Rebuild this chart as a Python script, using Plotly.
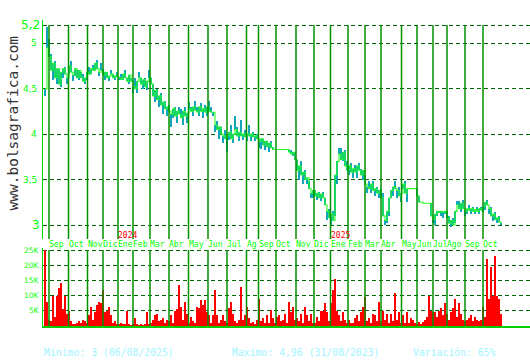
import plotly.graph_objects as go

# ---------------- data ----------------
# one value per ~2 trading sessions, from end of Aug 2023 to Oct 2025
cierre = [
    4.50, 4.95, 4.85, 4.70, 4.78, 4.62, 4.72, 4.55, 4.68, 4.72,
    4.66, 4.62, 4.75, 4.68, 4.65, 4.72, 4.62, 4.70, 4.62, 4.58,
    4.62, 4.68, 4.66, 4.72, 4.70, 4.78, 4.72, 4.68, 4.70, 4.65,
    4.68, 4.62, 4.64, 4.66, 4.62, 4.64, 4.63, 4.62, 4.60, 4.66,
    4.62, 4.58, 4.65, 4.58, 4.52, 4.50, 4.58, 4.62, 4.55, 4.60,
    4.52, 4.58, 4.62, 4.55, 4.42, 4.48, 4.38, 4.42, 4.32, 4.35,
    4.28, 4.30, 4.25, 4.22, 4.28, 4.20, 4.25, 4.22, 4.18, 4.25,
    4.20, 4.23, 4.28, 4.25, 4.30, 4.26, 4.24, 4.30, 4.25, 4.28,
    4.24, 4.30, 4.25, 4.24, 4.24, 4.10, 4.05, 4.08, 4.00, 3.98,
    3.95, 3.98, 4.02, 3.95, 4.00, 4.05, 3.98, 4.02, 3.98, 4.00,
    3.97, 4.00, 3.98, 4.00, 3.97, 3.98, 3.95, 3.92, 3.95, 3.88,
    3.92, 3.86, 3.90, 3.85, 3.83, 3.83, 3.83, 3.83, 3.83, 3.83,
    3.83, 3.83, 3.80, 3.78, 3.80, 3.72, 3.60, 3.65, 3.55, 3.58,
    3.50, 3.52, 3.40, 3.35, 3.38, 3.32, 3.35, 3.30, 3.34, 3.30,
    3.22, 3.15, 3.08, 3.12, 3.05, 3.55, 3.70, 3.78, 3.72, 3.80,
    3.65, 3.60, 3.65, 3.58, 3.62, 3.58, 3.65, 3.60, 3.55, 3.60,
    3.45, 3.42, 3.40, 3.45, 3.38, 3.40, 3.35, 3.38, 3.30, 3.10,
    3.05, 3.15, 3.30, 3.38, 3.42, 3.40, 3.38, 3.32, 3.35, 3.45,
    3.35, 3.40, 3.40, 3.40, 3.40, 3.40, 3.32, 3.25, 3.25, 3.24,
    3.24, 3.24, 3.24, 3.10, 3.06, 3.12, 3.15, 3.14, 3.15, 3.14,
    3.15, 3.08, 3.02, 3.05, 3.00, 3.15, 3.22, 3.18, 3.24, 3.18,
    3.15, 3.18, 3.16, 3.18, 3.15, 3.17, 3.15, 3.18, 3.16, 3.20,
    3.25, 3.22, 3.18, 3.10, 3.12, 3.06, 3.08, 3.03, 3.02,
]
apertura = [
    4.42, 5.18, 5.05, 4.88, 4.60, 4.80, 4.55, 4.72, 4.52, 4.62,
    4.74, 4.55, 4.66, 4.80, 4.58, 4.64, 4.70, 4.60, 4.68, 4.66,
    4.55, 4.60, 4.74, 4.66, 4.76, 4.70, 4.82, 4.64, 4.78, 4.72,
    4.60, 4.68, 4.58, 4.70, 4.66, 4.60, 4.68, 4.60, 4.66, 4.60,
    4.70, 4.62, 4.55, 4.62, 4.45, 4.62, 4.45, 4.68, 4.62, 4.50,
    4.62, 4.48, 4.70, 4.62, 4.55, 4.35, 4.50, 4.30, 4.45, 4.22,
    4.36, 4.20, 4.32, 4.08, 4.18, 4.30, 4.12, 4.30, 4.28, 4.10,
    4.30, 4.12, 4.35, 4.30, 4.20, 4.36, 4.30, 4.20, 4.34, 4.18,
    4.32, 4.20, 4.36, 4.30, 4.20, 4.02, 4.14, 3.95, 4.08, 3.90,
    4.04, 3.80, 3.94, 4.10, 3.90, 4.20, 4.08, 3.92, 4.15, 3.94,
    4.05, 3.92, 4.10, 3.92, 4.02, 3.92, 4.00, 3.85, 3.84, 3.95,
    3.82, 3.92, 3.80, 3.92, 3.86, 3.83, 3.83, 3.83, 3.83, 3.83,
    3.83, 3.83, 3.83, 3.82, 3.76, 3.80, 3.72, 3.50, 3.70, 3.45,
    3.60, 3.45, 3.48, 3.30, 3.30, 3.38, 3.28, 3.36, 3.26, 3.36,
    3.30, 3.05, 3.18, 3.00, 3.15, 3.10, 3.45, 3.85, 3.85, 3.70,
    3.82, 3.70, 3.55, 3.68, 3.52, 3.66, 3.52, 3.68, 3.62, 3.50,
    3.55, 3.35, 3.48, 3.35, 3.48, 3.32, 3.42, 3.30, 3.40, 3.35,
    3.00, 3.02, 3.10, 3.30, 3.32, 3.48, 3.30, 3.42, 3.25, 3.40,
    3.48, 3.25, 3.40, 3.40, 3.40, 3.40, 3.40, 3.32, 3.25, 3.24,
    3.24, 3.24, 3.24, 3.24, 3.02, 3.00, 3.10, 3.15, 3.10, 3.08,
    3.12, 3.15, 3.10, 2.98, 3.08, 3.02, 3.26, 3.26, 3.14, 3.28,
    3.10, 3.12, 3.22, 3.12, 3.20, 3.12, 3.20, 3.12, 3.20, 3.14,
    3.16, 3.28, 3.12, 3.20, 3.04, 3.14, 3.02, 3.10, 3.00,
]
# volume in thousands of shares
volumen_miles = [
    25, 8, 2, 1.5, 10, 3, 10, 12.5, 14, 5.5, 10, 4,
    5, 1.5, 0.8, 0.5, 1, 1.5, 1, 2, 1.5, 1,
    3.5, 6.3, 2, 4.6, 7, 8, 7.5, 12, 4.5, 5, 6.3, 3.5,
    1, 1.5, 0.8,
    0.5, 1, 0.5, 0.8, 5, 0.5, 0.3,
    0.5, 2.5, 0.5, 0.3, 0.5, 0.3, 0.5, 4.6, 0.5,
    1, 2, 3.5, 4, 1.5, 2, 2.5, 1, 2,
    1.5, 3.5, 1, 5, 5.5, 13.5, 6.3, 2, 8, 4,
    1, 3, 1.5, 1, 6.3, 5.8, 8.5, 6.8, 8.5, 4.6,
    3.5, 1, 3.5, 11.7, 3.5, 1, 2, 3.5, 1.5,
    1, 5.8, 8, 4, 1.5, 1, 2, 12.7, 2, 3.5,
    6.3, 2.5, 1, 1.3, 0.8, 2,
    8.8, 1.5, 2.5, 1, 3.5, 1, 5.2, 2.5, 1,
    3, 3.5, 1.5, 2, 4, 1, 8, 4.6, 6.3, 2,
    2.5, 1.5, 4, 1, 6.3, 3.5, 1.5, 4, 1,
    1, 3, 1.5, 5, 5, 7.5, 4.6, 1.5,
    7.5, 12, 15.5, 5, 3.5, 1.5, 4.6, 2, 1,
    2, 1, 1, 2.5, 3.5, 1.5, 4.6, 6.3,
    9.5, 1.5, 2.5, 1, 4, 3.5, 1.5, 8,
    1.5, 5, 2, 4, 1, 4, 1.5, 10.8, 2, 4.6, 1,
    3.5, 1, 4.6, 1, 2.5, 2, 1,
    0.5, 1.3, 0.5, 1.3, 2, 3, 9.9, 5,
    4.6, 4.6, 3, 5, 5.8, 3.5, 7.5,
    4, 2, 4.6, 5.8, 8.8, 3, 7.5, 4, 2,
    1.5, 2, 2.5, 3.5, 1.5, 3, 2, 1.5, 2,
    6.3, 3, 22, 9, 19.5, 10, 23, 10, 8.8, 4,
]
# month starts (in the same session index) and their labels
inicio_mes = [2, 11.75, 21.25, 29, 36.5, 44, 52.5, 62, 71.75, 81.5, 91, 100.75,
              106.75, 115.5, 125.5, 134.5, 142.75, 151.5, 160, 168, 178.25, 186,
              194, 201, 210, 219]
etiquetas_mes = ["Sep", "Oct", "Nov", "Dic", "Ene", "Feb", "Mar", "Abr", "May", "Jun",
                 "Jul", "Ag", "Sep", "Oct", "Nov", "Dic", "Ene", "Feb", "Mar", "Abr",
                 "May", "Jun", "Jul", "Ago", "Sep", "Oct"]
anios = [("2024", 36.5), ("2025", 142.75)]
niveles_precio = [3, 3.5, 4, 4.5, 5, 5.2]
etiquetas_precio = ["3", "3,5", "4", "4,5", "5", "5,2"]
niveles_vol = [5, 10, 15, 20, 25]
etiquetas_vol = ["5K", "10K", "15K", "20K", "25K"]

# ---------------- figure ----------------
idx_p = list(range(len(cierre)))
idx_v = list(range(len(volumen_miles)))
dif = [c - o for c, o in zip(cierre, apertura)]

XR = [-1, 242.5]
PR = [2.846, 5.255]
VR = [0, 25.66]

fig = go.Figure()
fig.add_trace(go.Bar(x=idx_p, y=dif, base=apertura, width=1.0,
                     marker=dict(color="#12a7b8", line=dict(width=0)),
                     xaxis="x", yaxis="y", hoverinfo="skip"))
fig.add_trace(go.Scatter(x=idx_p, y=cierre, mode="lines",
                         line=dict(color="#22ff22", width=1.1, shape="hv"),
                         xaxis="x", yaxis="y"))
fig.add_trace(go.Bar(x=idx_v, y=volumen_miles, width=0.55,
                     marker=dict(color="#ff0000", line=dict(width=0)),
                     xaxis="x2", yaxis="y2"))

shapes = []
for m in inicio_mes:
    shapes.append(dict(type="line", xref="x", yref="y", x0=m, x1=m, y0=PR[0], y1=5.2,
                       line=dict(color="#009000", width=1.5), layer="above"))
    shapes.append(dict(type="line", xref="x2", yref="y2", x0=m, x1=m, y0=0, y1=25,
                       line=dict(color="#009000", width=1.5), layer="above"))

ann = []
for lvl, lab in zip(niveles_precio, etiquetas_precio):
    big = lab in ("5,2", "3")
    ann.append(dict(xref="paper", yref="y", x=-0.003 if big else -0.008, y=lvl,
                    xanchor="right", yanchor="middle", text=lab, showarrow=False,
                    font=dict(family="DejaVu Sans", size=12 if big else 9, color="#00ff00")))
for lvl, lab in zip(niveles_vol, etiquetas_vol):
    ann.append(dict(xref="paper", yref="y2", x=-0.002, y=lvl,
                    xanchor="right", yanchor="middle", text=lab, showarrow=False,
                    font=dict(family="DejaVu Sans", size=7.5, color="#00ff00")))
for m, lab in zip(inicio_mes, etiquetas_mes):
    ann.append(dict(xref="x", yref="paper", x=m, y=(360 - 244) / 360, xshift=-2,
                    xanchor="left", yanchor="middle", text=lab, showarrow=False,
                    font=dict(family="DejaVu Sans Mono", size=8, color="#00ff00")))
for lab, m in anios:
    ann.append(dict(xref="x", yref="paper", x=m, y=(360 - 235.5) / 360, xshift=-2,
                    xanchor="left", yanchor="middle", text=lab, showarrow=False,
                    font=dict(family="DejaVu Sans Mono", size=8, color="#ff0000")))
ann.append(dict(xref="paper", yref="paper", x=(12 - 43) / 487, y=(360 - 123.5) / 360,
                text="www.bolsagrafica.com", textangle=-90, showarrow=False,
                xanchor="center", yanchor="middle",
                font=dict(family="DejaVu Sans Mono", size=14.5, color="#333333")))
for txt, px in [("Minimo: 3 (06/08/2025)", 44), ("Maximo: 4,96 (31/08/2023)", 231.5),
                ("Variación: 65%", 413)]:
    ann.append(dict(xref="paper", yref="paper", x=(px - 43) / 487, y=8 / 360, xshift=-2,
                    xanchor="left", yanchor="middle", text=txt, showarrow=False,
                    font=dict(family="DejaVu Sans Mono", size=9.8, color="#a0f4ff")))

grid = dict(showgrid=True, gridcolor="#006400", gridwidth=1.2, griddash="4px,3px",
            zeroline=False, showticklabels=False, ticks="")
fig.update_layout(
    width=530, height=360, margin=dict(l=43, r=0, t=0, b=0),
    paper_bgcolor="white", plot_bgcolor="white", showlegend=False,
    barmode="overlay", bargap=0,
    xaxis=dict(domain=[0, 1], range=XR, showgrid=False, zeroline=False,
               showticklabels=False, ticks="", anchor="y"),
    xaxis2=dict(domain=[0, 1], range=XR, showgrid=False, zeroline=False,
                showticklabels=False, ticks="", anchor="y2", showline=True,
                linecolor="#00cc00", linewidth=2),
    yaxis=dict(domain=[(360 - 239) / 360, (360 - 20) / 360], range=PR,
               tickvals=niveles_precio, anchor="x", showline=True,
               linecolor="#00dd00", linewidth=1.3, **grid),
    yaxis2=dict(domain=[(360 - 326) / 360, (360 - 248) / 360], range=VR,
                tickvals=niveles_vol, anchor="x2", showline=True,
                linecolor="#00dd00", linewidth=1.3, **grid),
    shapes=shapes, annotations=ann,
)
fig.write_html("out.html")
